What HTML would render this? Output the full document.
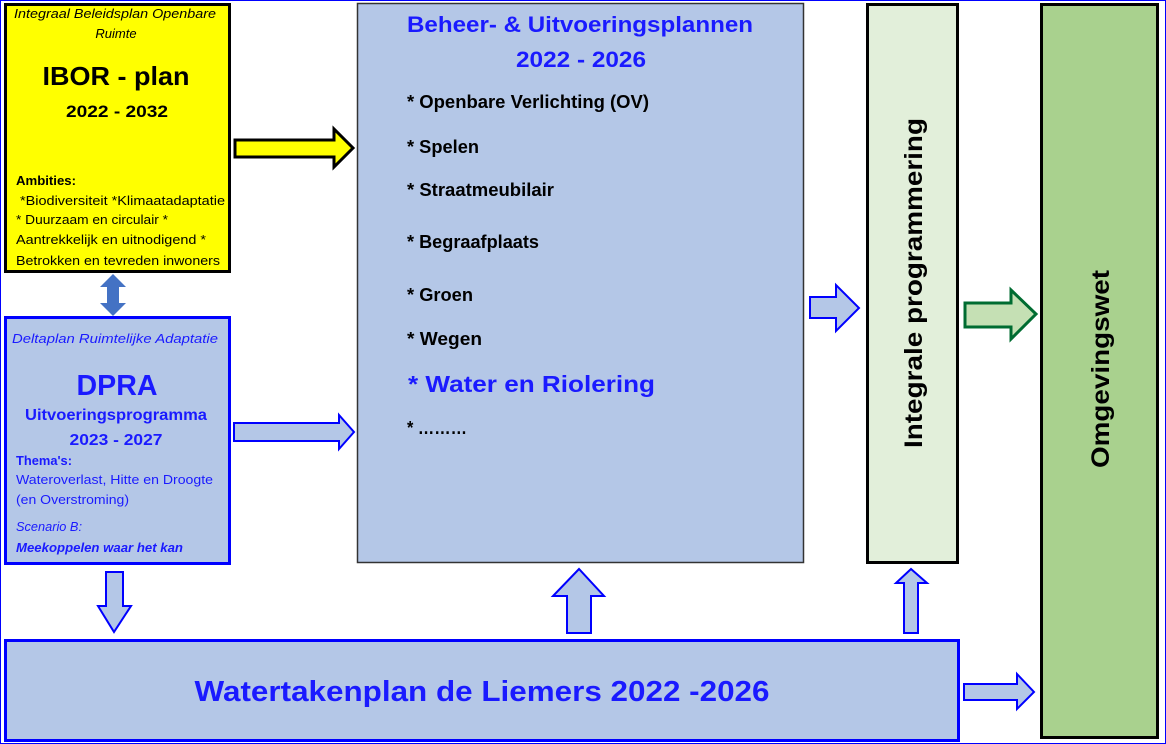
<!DOCTYPE html>
<html><head><meta charset="utf-8"><style>
html,body{margin:0;padding:0;background:#fff;}
svg{display:block;}
text{font-family:"Liberation Sans",sans-serif;}
</style></head><body>
<svg width="1166" height="744" viewBox="0 0 1166 744" xmlns="http://www.w3.org/2000/svg">
<rect x="0.5" y="0.5" width="1165" height="743" fill="#fff" stroke="#0000ff" stroke-width="1"/>

<!-- IBOR -->
<rect x="5.5" y="4.5" width="224" height="267" fill="#ffff00" stroke="#000" stroke-width="3"/>
<text x="115" y="18" font-size="13" font-style="italic" text-anchor="middle" textLength="202" lengthAdjust="spacingAndGlyphs">Integraal Beleidsplan Openbare</text>
<text x="116" y="38" font-size="13" font-style="italic" text-anchor="middle">Ruimte</text>
<text x="116" y="85" font-size="26" font-weight="bold" text-anchor="middle" textLength="147" lengthAdjust="spacingAndGlyphs">IBOR - plan</text>
<text x="117" y="117" font-size="17" font-weight="bold" text-anchor="middle" textLength="102" lengthAdjust="spacingAndGlyphs">2022 - 2032</text>
<text x="16" y="185" font-size="13" font-weight="bold" textLength="60" lengthAdjust="spacingAndGlyphs">Ambities:</text>
<text x="20" y="205" font-size="13" textLength="205" lengthAdjust="spacingAndGlyphs">*Biodiversiteit *Klimaatadaptatie</text>
<text x="16" y="224" font-size="13" textLength="152" lengthAdjust="spacingAndGlyphs">* Duurzaam en circulair *</text>
<text x="16" y="244" font-size="13" textLength="190" lengthAdjust="spacingAndGlyphs">Aantrekkelijk en uitnodigend *</text>
<text x="16" y="265" font-size="13" textLength="204" lengthAdjust="spacingAndGlyphs">Betrokken en tevreden inwoners</text>

<!-- yellow arrow -->
<polygon points="235,140 334,140 334,129 353,148 334,167 334,157 235,157" fill="#ffff00" stroke="#000" stroke-width="3"/>

<!-- double arrow -->
<polygon points="113,274 126,287 119,287 119,303 126,303 113,316 100,303 107,303 107,287 100,287" fill="#4472c4"/>

<!-- DPRA -->
<rect x="5.5" y="317.5" width="224" height="246" fill="#b4c7e7" stroke="#0000ff" stroke-width="3"/>
<text x="115" y="343" font-size="13" font-style="italic" fill="#1a1aff" text-anchor="middle" textLength="206" lengthAdjust="spacingAndGlyphs">Deltaplan Ruimtelijke Adaptatie</text>
<text x="117" y="395" font-size="29" font-weight="bold" fill="#1a1aff" text-anchor="middle" textLength="81" lengthAdjust="spacingAndGlyphs">DPRA</text>
<text x="116" y="420" font-size="16" font-weight="bold" fill="#1a1aff" text-anchor="middle" textLength="182" lengthAdjust="spacingAndGlyphs">Uitvoeringsprogramma</text>
<text x="116" y="445" font-size="16" font-weight="bold" fill="#1a1aff" text-anchor="middle" textLength="93" lengthAdjust="spacingAndGlyphs">2023 - 2027</text>
<text x="16" y="465" font-size="13" font-weight="bold" fill="#1a1aff" textLength="56" lengthAdjust="spacingAndGlyphs">Thema's:</text>
<text x="16" y="484" font-size="13" fill="#1a1aff" textLength="197" lengthAdjust="spacingAndGlyphs">Wateroverlast, Hitte en Droogte</text>
<text x="16" y="504" font-size="13" fill="#1a1aff" textLength="113" lengthAdjust="spacingAndGlyphs">(en Overstroming)</text>
<text x="16" y="531" font-size="13" font-style="italic" fill="#1a1aff" textLength="66" lengthAdjust="spacingAndGlyphs">Scenario B:</text>
<text x="16" y="552" font-size="13" font-weight="bold" font-style="italic" fill="#1a1aff" textLength="167" lengthAdjust="spacingAndGlyphs">Meekoppelen waar het kan</text>

<!-- DPRA right arrow -->
<polygon points="234,423 339,423 339,415 354,432 339,449 339,441 234,441" fill="#b4c7e7" stroke="#0000ff" stroke-width="2"/>
<!-- DPRA down arrow -->
<polygon points="106,572 123,572 123,606 131,606 114,632 98,606 106,606" fill="#b4c7e7" stroke="#0000ff" stroke-width="2"/>

<!-- center -->
<rect x="357.5" y="3.5" width="446" height="559" fill="#b4c7e7" stroke="#333" stroke-width="1.5"/>
<text x="580" y="32" font-size="22" font-weight="bold" fill="#1a1aff" text-anchor="middle" textLength="346" lengthAdjust="spacingAndGlyphs">Beheer-  &amp; Uitvoeringsplannen</text>
<text x="581" y="67" font-size="22" font-weight="bold" fill="#1a1aff" text-anchor="middle" textLength="130" lengthAdjust="spacingAndGlyphs">2022 - 2026</text>
<g font-size="18" font-weight="bold" fill="#000">
<text x="407" y="108" textLength="242" lengthAdjust="spacingAndGlyphs">* Openbare Verlichting (OV)</text>
<text x="407" y="153" textLength="72" lengthAdjust="spacingAndGlyphs">* Spelen</text>
<text x="407" y="196" textLength="147" lengthAdjust="spacingAndGlyphs">* Straatmeubilair</text>
<text x="407" y="248" textLength="132" lengthAdjust="spacingAndGlyphs">* Begraafplaats</text>
<text x="407" y="301" textLength="66" lengthAdjust="spacingAndGlyphs">* Groen</text>
<text x="407" y="345" textLength="75" lengthAdjust="spacingAndGlyphs">* Wegen</text>
<text x="407" y="434" textLength="60" lengthAdjust="spacingAndGlyphs">* ………</text>
</g>
<text x="408" y="392" font-size="23" font-weight="bold" fill="#1a1aff" textLength="247" lengthAdjust="spacingAndGlyphs">* Water en Riolering</text>

<!-- up arrow under center -->
<polygon points="567,633 591,633 591,596 604,596 579,569 553,596 567,596" fill="#b4c7e7" stroke="#0000ff" stroke-width="2"/>

<!-- center -> integrale -->
<polygon points="810,297 836,297 836,285 859,308 836,331 836,318 810,318" fill="#b4c7e7" stroke="#0000ff" stroke-width="2"/>

<!-- integrale -->
<rect x="867.5" y="4.5" width="90" height="558" fill="#e2efda" stroke="#000" stroke-width="3"/>
<text transform="translate(922,283) rotate(-90)" font-size="25" font-weight="bold" text-anchor="middle" textLength="330" lengthAdjust="spacingAndGlyphs">Integrale programmering</text>

<!-- green arrow -->
<polygon points="965,303 1011,303 1011,290 1036,314 1011,339 1011,327 965,327" fill="#c5e0b4" stroke="#006c31" stroke-width="3"/>

<!-- omgevingswet -->
<rect x="1041.5" y="4.5" width="116" height="733" fill="#a9d18e" stroke="#000" stroke-width="3"/>
<text transform="translate(1109,369) rotate(-90)" font-size="25" font-weight="bold" text-anchor="middle" textLength="198" lengthAdjust="spacingAndGlyphs">Omgevingswet</text>

<!-- up arrow to integrale -->
<polygon points="904,633 918,633 918,583 927,583 911,569 896,583 904,583" fill="#b4c7e7" stroke="#0000ff" stroke-width="2"/>

<!-- watertakenplan -->
<rect x="5.5" y="640.5" width="953" height="100" fill="#b4c7e7" stroke="#0000ff" stroke-width="3"/>
<text x="482" y="701" font-size="29" font-weight="bold" fill="#1a1aff" text-anchor="middle" textLength="575" lengthAdjust="spacingAndGlyphs">Watertakenplan de Liemers 2022 -2026</text>

<!-- bottom right arrow -->
<polygon points="964,684 1017,684 1017,674 1034,692 1017,709 1017,700 964,700" fill="#b4c7e7" stroke="#0000ff" stroke-width="2"/>
</svg>
</body></html>
